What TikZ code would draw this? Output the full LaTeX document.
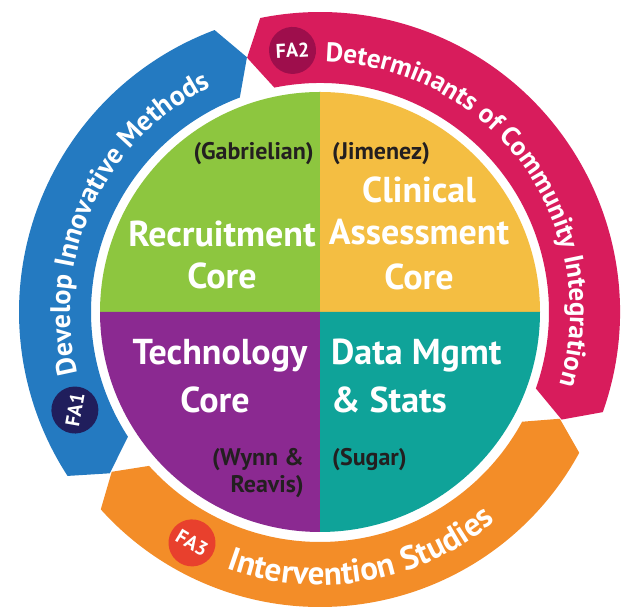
\documentclass[tikz,border=0pt]{standalone}
\usepackage{fontspec}
\setmainfont{PT Sans}
\usetikzlibrary{decorations.text}

\definecolor{fablue}{RGB}{36,122,193}
\definecolor{fapink}{RGB}{216,28,92}
\definecolor{faorange}{RGB}{243,141,40}
\definecolor{cgreen}{RGB}{141,198,63}
\definecolor{cyellow}{RGB}{244,190,66}
\definecolor{cpurple}{RGB}{139,41,145}
\definecolor{cteal}{RGB}{15,163,153}
\definecolor{fanavy}{RGB}{32,30,92}
\definecolor{famaroon}{RGB}{158,14,76}
\definecolor{fared}{RGB}{232,64,45}
\definecolor{inkdark}{RGB}{35,31,32}

% radius of the core disc
\newcommand{\Rc}{220pt}
\newcommand{\tipd}{4.5}

% ring segment between angles #2 (clockwise end) and #1 (counter-clockwise end),
% inner radius #3, outer radius #4, with a pointed tip at both ends
\newcommand{\bandpath}[4]{(#2:#4) arc[start angle=#2, end angle=#1, radius=#4]
  -- ({#1+\tipd}:{(#3+#4)/2}) -- (#1:#3) arc[start angle=#1, end angle=#2, radius=#3]
  -- ({#2-\tipd}:{(#3+#4)/2}) -- cycle}

\newcommand{\corefont}{\fontsize{36}{36}\selectfont\bfseries}
\newcommand{\leadfont}{\fontsize{24}{24}\selectfont\bfseries}
\newcommand{\ringfont}{\fontsize{28}{28}\selectfont\bfseries}
\newcommand{\ringfontp}{\fontsize{27}{27}\selectfont\bfseries}
\newcommand{\ringfontb}{\fontsize{33}{33}\selectfont\bfseries}

\tikzset{
  coretext/.style={text=white, font=\corefont, inner sep=0pt},
  leadtext/.style={text=inkdark, font=\leadfont, inner sep=0pt},
  fabadge/.style={circle, minimum size=47pt, inner sep=0pt, text=white,
                  font=\fontsize{20}{20}\selectfont\bfseries},
  ringtext/.style={decorate, decoration={text along path, text align=center,
                   text color=white, text={#1}}}
}

\begin{document}
\begin{tikzpicture}[x=1pt, y=1pt]
\useasboundingbox (0,0) rectangle (627,612);
\fill[white] (0,0) rectangle (627,612);

\begin{scope}[shift={(320,300)}]
  % core disc in four quadrants
  \fill[cgreen]  (0,0) -- (180:\Rc) arc[start angle=180, end angle=90,  radius=\Rc] -- cycle;
  \fill[cyellow] (0,0) -- (90:\Rc)  arc[start angle=90,  end angle=0,   radius=\Rc] -- cycle;
  \fill[cpurple] (0,0) -- (270:\Rc) arc[start angle=270, end angle=180, radius=\Rc] -- cycle;
  \fill[cteal]   (0,0) -- (0:\Rc)   arc[start angle=0,   end angle=-90, radius=\Rc] -- cycle;

  % focus-area ring
  \fill[fablue]   \bandpath{213}{110.5}{229pt}{301pt};
  \fill[fapink]   \bandpath{101.5}{-19.5}{229pt}{300pt};
  \fill[faorange] \bandpath{-28.5}{-138}{230pt}{295pt};

  % ring captions
  \path[ringtext={|\ringfont|Develop Innovative Methods}]
    (200:250pt) arc[start angle=200, end angle=110, radius=250pt];
  \path[ringtext={|\ringfontp|Determinants of Community Integration}]
    (96:250pt) arc[start angle=96, end angle=-24, radius=250pt];
  \path[ringtext={|\ringfontb|Intervention Studies}]
    (238:273pt) arc[start angle=238, end angle=322, radius=273pt];

  % focus-area badges
  \node[fabadge, fill=fanavy,   rotate=80]  (fa1) at (201.8:264pt) {FA1};
  \node[fabadge, fill=famaroon, rotate=3]   (fa2) at (96:263pt)    {FA2};
  \node[fabadge, fill=fared,    rotate=-31] (fa3) at (241:264pt)   {FA3};
\end{scope}

% core names
\node[coretext, anchor=base] (rec1) at (222,365) {Recruitment};
\node[coretext, anchor=base] (rec2) at (222,323) {Core};
\node[coretext, anchor=base] (cli1) at (419,409) {Clinical};
\node[coretext, anchor=base] (cli2) at (419,367) {Assessment};
\node[coretext, anchor=base] (cli3) at (419,322) {Core};
\node[coretext, anchor=base] (tec1) at (220,247) {Technology};
\node[coretext, anchor=base] (tec2) at (215,199) {Core};
\node[coretext, anchor=base west] (dat1) at (331,247) {Data Mgmt};
\node[coretext, anchor=base west] (dat2) at (331,199) {\& Stats};

% core leads
\node[leadtext, anchor=base east] (gab) at (314,452) {(Gabrielian)};
\node[leadtext, anchor=base west] (jim) at (332,452) {(Jimenez)};
\node[leadtext, anchor=base east] (wyn1) at (304,146) {(Wynn \&};
\node[leadtext, anchor=base east] (wyn2) at (304,119) {Reavis)};
\node[leadtext, anchor=base west] (sug) at (332,146) {(Sugar)};
\end{tikzpicture}
\end{document}
